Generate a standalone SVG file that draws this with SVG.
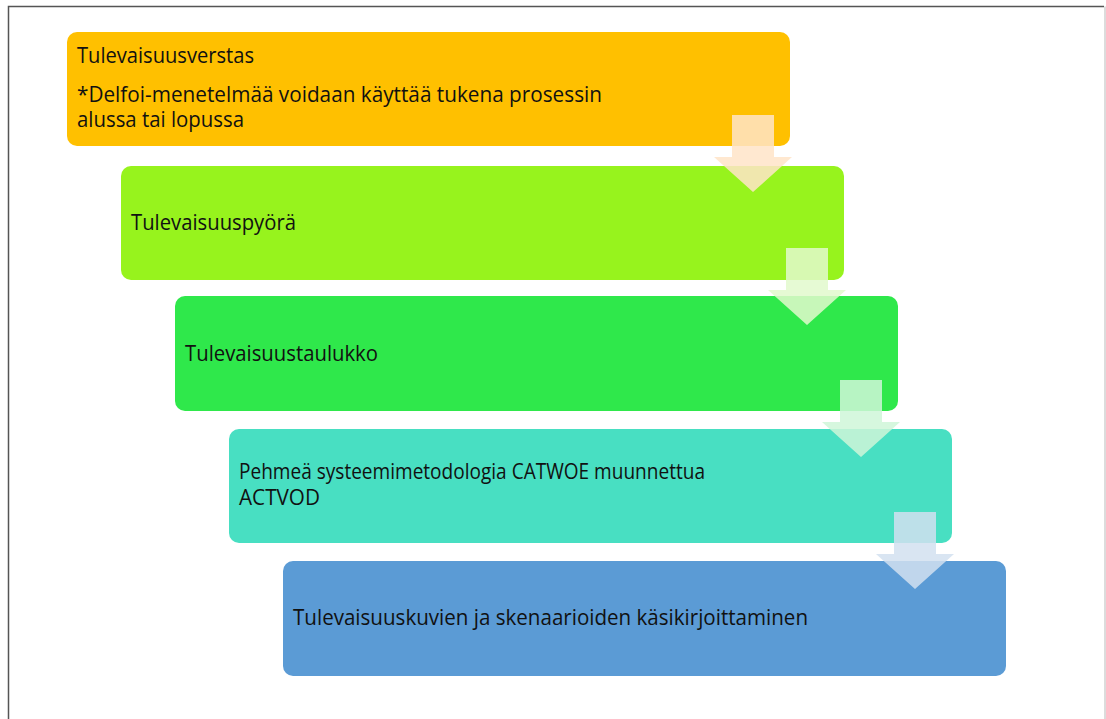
<svg xmlns="http://www.w3.org/2000/svg" width="1106" height="719" viewBox="0 0 1106 719">
  <style>
    .box { stroke: none; }
    .label { font-family: "Open Sans", "Liberation Sans", sans-serif; font-size: 21px; fill: #111111; }
    .arrow { opacity: 0.85; }
  </style>
  <defs>
    <!-- downward block arrow, shaft top at origin-relative coords -->
    <path id="downArrow" d="M-21,0 H21 V42 H39 L0,77 L-39,42 H-21 Z"/>
  </defs>

  <rect x="0" y="0" width="1106" height="719" fill="#ffffff"/>

  <!-- frame -->
  <path d="M8.5,719 V6.5 H1104" fill="none" stroke="#555555" stroke-width="1.5"/>
  <path d="M1105,6.5 V719" fill="none" stroke="#d0d0d0" stroke-width="1.5"/>

  <g id="step1">
    <rect class="box" x="67" y="32" width="723" height="114" rx="10" fill="#FFC000"/>
    <text class="label" x="77" y="63" textLength="177" lengthAdjust="spacingAndGlyphs">Tulevaisuusverstas</text>
    <text class="label" x="77" y="102" textLength="525" lengthAdjust="spacingAndGlyphs">*Delfoi-menetelmää voidaan käyttää tukena prosessin</text>
    <text class="label" x="77" y="127" textLength="167" lengthAdjust="spacingAndGlyphs">alussa tai lopussa</text>
  </g>

  <g id="step2">
    <rect class="box" x="121" y="166" width="723" height="114" rx="10" fill="#97F31D"/>
    <text class="label" x="131" y="230" textLength="165" lengthAdjust="spacingAndGlyphs">Tulevaisuuspyörä</text>
  </g>

  <g id="step3">
    <rect class="box" x="175" y="296" width="723" height="115" rx="10" fill="#2FE84B"/>
    <text class="label" x="185" y="361" textLength="193" lengthAdjust="spacingAndGlyphs">Tulevaisuustaulukko</text>
  </g>

  <g id="step4">
    <rect class="box" x="229" y="429" width="723" height="114" rx="10" fill="#48DFC2"/>
    <text class="label" x="239" y="479" textLength="466" lengthAdjust="spacingAndGlyphs">Pehmeä systeemimetodologia CATWOE muunnettua</text>
    <text class="label" x="239" y="505" textLength="81" lengthAdjust="spacingAndGlyphs">ACTVOD</text>
  </g>

  <g id="step5">
    <rect class="box" x="283" y="561" width="723" height="115" rx="10" fill="#5B9BD5"/>
    <text class="label" x="293" y="625" textLength="515" lengthAdjust="spacingAndGlyphs">Tulevaisuuskuvien ja skenaarioiden käsikirjoittaminen</text>
  </g>

  <g id="connectors">
    <use href="#downArrow" class="arrow" x="753" y="115" fill="#FFE4C8"/>
    <use href="#downArrow" class="arrow" x="807" y="248" fill="#E2F9CC"/>
    <use href="#downArrow" class="arrow" x="861" y="380" fill="#CFF6D8"/>
    <use href="#downArrow" class="arrow" x="915" y="512" fill="#D2E0F0"/>
  </g>
</svg>
